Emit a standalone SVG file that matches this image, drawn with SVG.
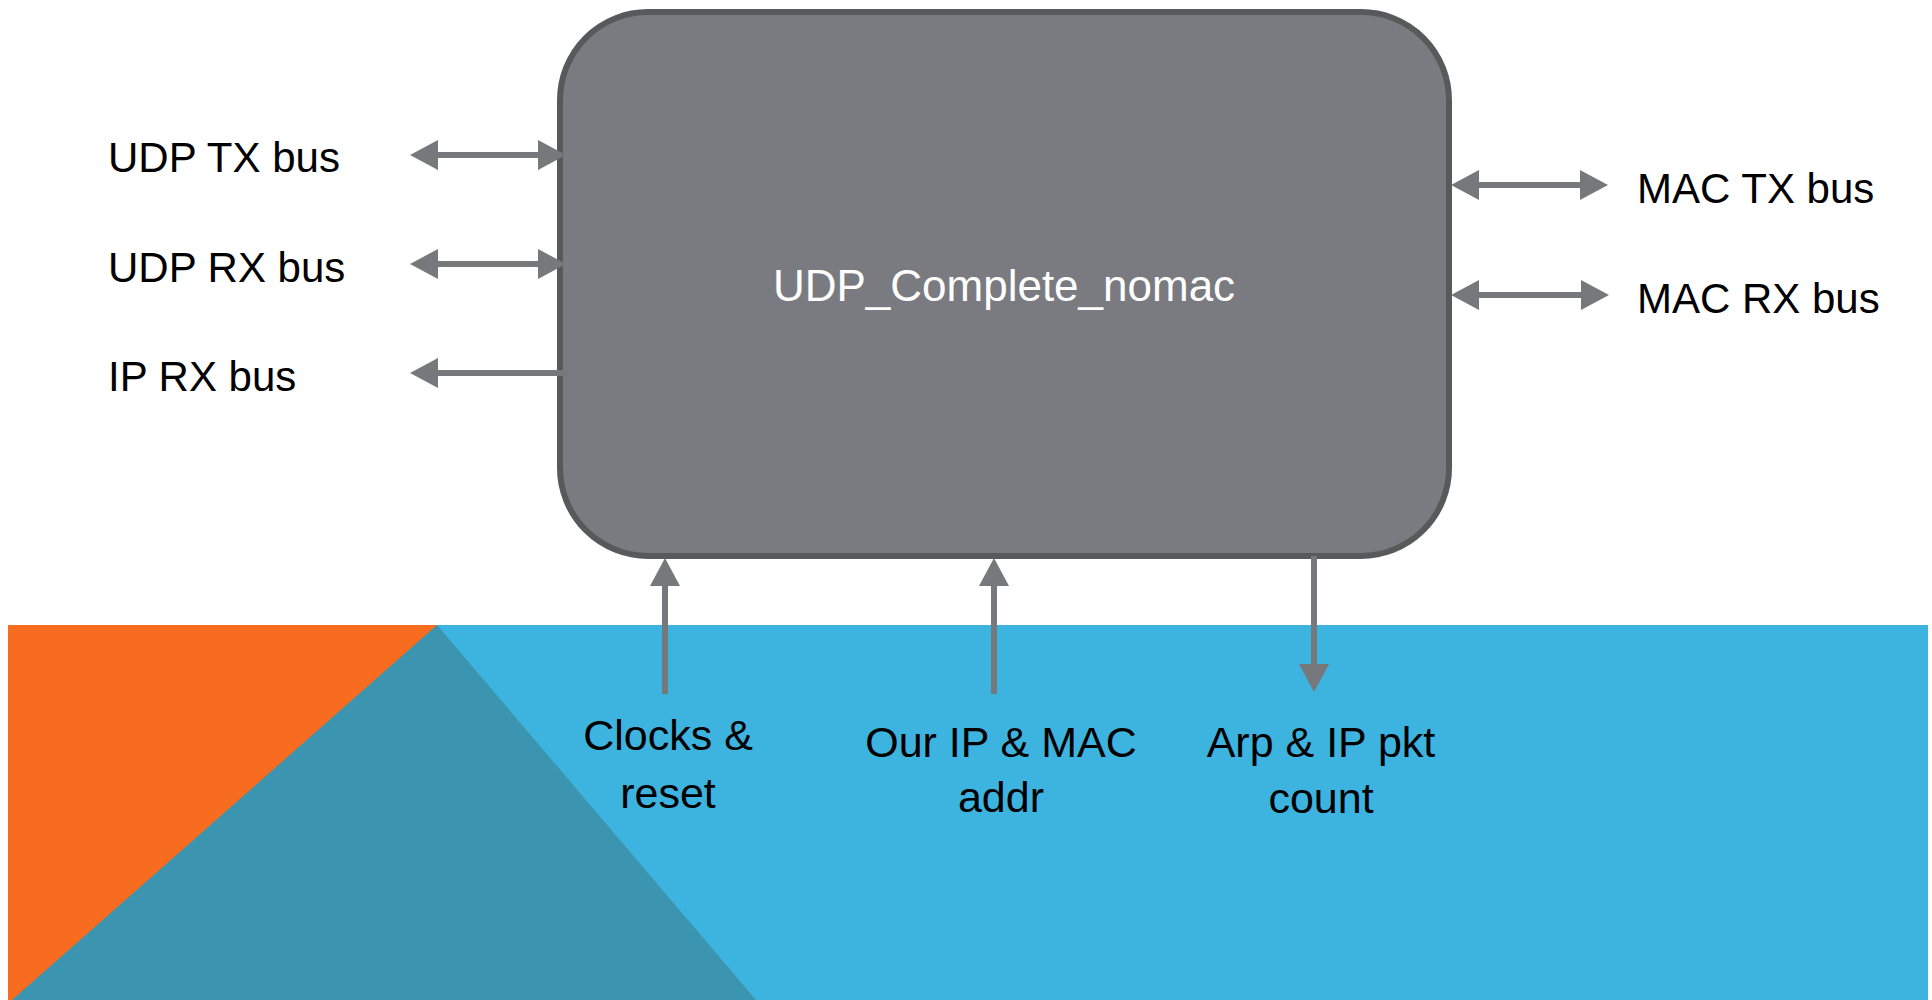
<svg xmlns="http://www.w3.org/2000/svg" width="1932" height="1000" viewBox="0 0 1932 1000">
<style>
.lbl{font-family:"Liberation Sans",Arial,sans-serif;fill:#000000;}
.side{font-size:42px;}
.bot{font-size:43px;text-anchor:middle;}
.title{font-family:"Liberation Sans",Arial,sans-serif;font-size:44px;fill:#ffffff;text-anchor:middle;}
.conn{stroke:#77787c;stroke-width:6;fill:none;}
</style>
<defs>
<marker id="head" viewBox="0 0 28 30" refX="0" refY="15" markerWidth="28" markerHeight="30" markerUnits="userSpaceOnUse" orient="auto-start-reverse">
<path d="M0,0 L28,15 L0,30 Z" fill="#77787c"/>
</marker>
</defs>
<g id="background">
<rect x="8" y="625" width="1920" height="375" fill="#3db3df"/>
<rect x="8" y="625" width="429" height="375" fill="#f76c1e"/>
<polygon points="437,625 756,1000 12,1000" fill="#3b95b0"/>
</g>
<g id="udp_complete_nomac">
<rect x="560" y="12" width="889" height="544" rx="88" ry="88" fill="#7a7b80" stroke="#58595b" stroke-width="6"/>
<text class="title" x="1004" y="301">UDP_Complete_nomac</text>
</g>
<g id="connectors">
<path class="conn" d="M438,155 L538,155" marker-start="url(#head)" marker-end="url(#head)"/>
<path class="conn" d="M438,264 L538,264" marker-start="url(#head)" marker-end="url(#head)"/>
<path class="conn" d="M568,373 L438,373" marker-end="url(#head)"/>
<path class="conn" d="M1479,185 L1580,185" marker-start="url(#head)" marker-end="url(#head)"/>
<path class="conn" d="M1479,295 L1581,295" marker-start="url(#head)" marker-end="url(#head)"/>
<path class="conn" d="M665,694 L665,586" marker-end="url(#head)"/>
<path class="conn" d="M994,694 L994,586" marker-end="url(#head)"/>
<path class="conn" d="M1314,556 L1314,664" marker-end="url(#head)"/>
</g>
<g id="udp_tx_bus"><text class="lbl side" x="108" y="172">UDP TX bus</text></g>
<g id="udp_rx_bus"><text class="lbl side" x="108" y="282">UDP RX bus</text></g>
<g id="ip_rx_bus"><text class="lbl side" x="108" y="391">IP RX bus</text></g>
<g id="mac_tx_bus"><text class="lbl side" x="1637" y="203">MAC TX bus</text></g>
<g id="mac_rx_bus"><text class="lbl side" x="1637" y="313">MAC RX bus</text></g>
<g id="clocks_reset"><text class="lbl bot" x="668" y="750">Clocks &amp;</text><text class="lbl bot" x="668" y="808">reset</text></g>
<g id="our_ip_mac"><text class="lbl bot" x="1001" y="757">Our IP &amp; MAC</text><text class="lbl bot" x="1001" y="812">addr</text></g>
<g id="arp_ip_count"><text class="lbl bot" x="1321" y="757">Arp &amp; IP pkt</text><text class="lbl bot" x="1321" y="813">count</text></g>
</svg>
